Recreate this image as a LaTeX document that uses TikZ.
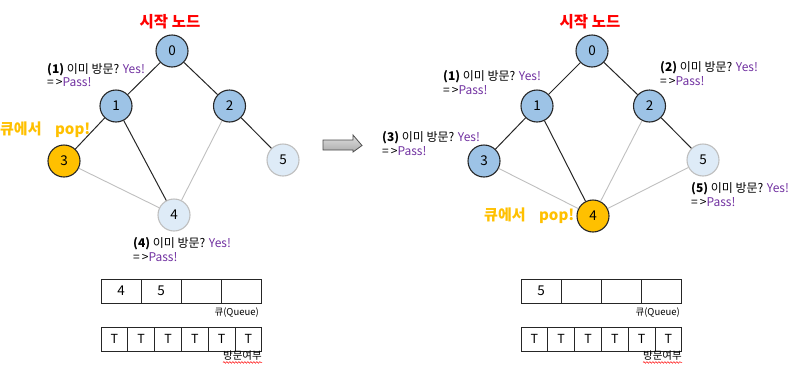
\documentclass[tikz,border=0pt]{standalone}
\usepackage{fontspec}
\setmainfont{Noto Sans CJK KR}
\usetikzlibrary{decorations.pathmorphing}
\definecolor{nblue}{HTML}{9DC3E6}
\definecolor{nlight}{HTML}{DEEBF7}
\definecolor{norange}{HTML}{FFC000}
\definecolor{ypurple}{HTML}{7030A0}
\definecolor{lgray}{HTML}{BFBFBF}
\newcommand\annA[1]{\textbf{(#1)} 이미 방문? \textcolor{ypurple}{Yes!}}
\newcommand\annB{=\,>\textcolor{ypurple}{Pass!}}
\tikzset{
  vis/.style={circle, minimum size=32pt, inner sep=0pt, draw=black!85, line width=1.1pt, fill=nblue, font=\fontsize{13.5}{13.5}\selectfont},
  unvis/.style={vis, fill=nlight, draw=lgray},
  cur/.style={vis, fill=norange},
  tree/.style={draw=black!85, line width=1pt},
  cross/.style={draw=lgray, line width=0.9pt},
  ann/.style={anchor=base west, inner sep=0pt, font=\fontsize{12}{13}\selectfont},
  titl/.style={text=red, inner sep=0pt, font=\bfseries\fontsize{15.5}{15.5}\selectfont},
  popl/.style={text=norange, anchor=west, inner sep=0pt, font=\bfseries\fontsize{15}{15}\selectfont},
  cell/.style={draw=black!85, line width=0.8pt, minimum width=40pt, minimum height=24pt, inner sep=0pt, font=\fontsize{13.5}{13.5}\selectfont},
  vcell/.style={cell, minimum width=26.8pt, font=\fontsize{12.5}{12.5}\selectfont},
  caplabel/.style={anchor=east, inner sep=0pt, font=\fontsize{9.5}{10}\selectfont},
  wavy/.style={draw=red, line width=0.5pt, decorate, decoration={snake, amplitude=0.8pt, segment length=3pt}}
}
\begin{document}
\begin{tikzpicture}[x=1pt,y=-1pt]
\useasboundingbox (0,0) rectangle (794,386);
% ---------- left graph ----------
\node[titl] (t1) at (170,21.5) {시작 노드};
\node[vis] (a0) at (172,51) {0};
\node[vis] (a1) at (116,106) {1};
\node[vis] (a2) at (229.5,106) {2};
\node[cur] (a3) at (64,161) {3};
\node[unvis] (a5) at (283,160) {5};
\node[unvis] (a4) at (174,215) {4};
\draw[tree] (a0) -- (a1);
\draw[tree] (a0) -- (a2);
\draw[tree] (a1) -- (a3);
\draw[tree] (a1) -- (a4);
\draw[tree] (a2) -- (a5);
\draw[cross] (a2) -- (a4);
\draw[cross] (a3) -- (a4);
\node[ann] (la1) at (47,73) {\annA{1}};
\node[ann] (lb1) at (47,86) {\annB};
\node[ann] (la4) at (133,247) {\annA{4}};
\node[ann] (lb4) at (133,261) {\annB};
\node[popl] (p1) at (0,130) {큐에서\hspace{0.9em}pop!};
% queue left
\node[cell] (q1) at (121,291) {4};
\node[cell] (q2) at (161,291) {5};
\node[cell] (q3) at (201,291) {};
\node[cell] (q4) at (241,291) {};
\node[caplabel] (qc1) at (259,312.5) {큐(Queue)};
\foreach \i in {0,...,5} {
  \node[vcell] (v\i) at (114.4+26.8*\i,339) {T};
}
\node[caplabel, font=\fontsize{10.5}{11}\selectfont] (vc1) at (262,356) {방문여부};
\draw[wavy] (vc1.south west) ++(0,1.5) coordinate (w1) -- (vc1.south east |- w1);
% ---------- arrow ----------
\shade[top color=gray!25, bottom color=gray!65, draw=black!70, line width=0.8pt]
  (323,140) -- (353,140) -- (353,135) -- (362,145.5) -- (353,152) -- (353,150) -- (323,150) -- cycle;
% ---------- right graph ----------
\node[titl] (t2) at (590,21.5) {시작 노드};
\node[vis] (b0) at (592,51) {0};
\node[vis] (b1) at (537,106) {1};
\node[vis] (b2) at (649.5,106) {2};
\node[vis] (b3) at (484,161) {3};
\node[unvis] (b5) at (703,160) {5};
\node[cur] (b4) at (593,216) {4};
\draw[tree] (b0) -- (b1);
\draw[tree] (b0) -- (b2);
\draw[tree] (b1) -- (b3);
\draw[tree] (b1) -- (b4);
\draw[tree] (b2) -- (b5);
\draw[cross] (b2) -- (b4);
\draw[cross] (b3) -- (b4);
\draw[cross] (b5) -- (b4);
\node[ann] (ra1) at (443,80) {\annA{1}};
\node[ann] (rb1) at (443,94) {\annB};
\node[ann] (ra2) at (660,71) {\annA{2}};
\node[ann] (rb2) at (660,85) {\annB};
\node[ann] (ra3) at (382,141) {\annA{3}};
\node[ann] (rb3) at (382,155) {\annB};
\node[ann] (ra5) at (691,192) {\annA{5}};
\node[ann] (rb5) at (691,206) {\annB};
\node[popl] (p2) at (484,216) {큐에서\hspace{0.9em}pop!};
% queue right
\node[cell] (r1) at (541,291) {5};
\node[cell] (r2) at (581,291) {};
\node[cell] (r3) at (621,291) {};
\node[cell] (r4) at (661,291) {};
\node[caplabel] (qc2) at (680,312.5) {큐(Queue)};
\foreach \i in {0,...,5} {
  \node[vcell] (u\i) at (534.4+26.8*\i,339) {T};
}
\node[caplabel, font=\fontsize{10.5}{11}\selectfont] (vc2) at (682,356) {방문여부};
\draw[wavy] (vc2.south west) ++(0,1.5) coordinate (w2) -- (vc2.south east |- w2);
\end{tikzpicture}
\end{document}
